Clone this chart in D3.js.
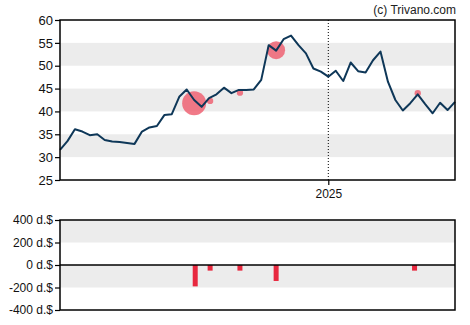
<!DOCTYPE html>
<html><head><meta charset="utf-8">
<script src="https://cdn.jsdelivr.net/npm/d3@7"></script>
<style>body{margin:0;background:#fff}svg{display:block;font-family:"Liberation Sans",Arial,sans-serif}</style>
</head><body><svg id="c" width="470" height="325"></svg>
<script>
// weekly closing prices starting 2024-04-24
const startDate = "2024-04-24";
const prices = [31.6,33.5,36.1,35.6,34.8,35.0,33.75,33.4,33.3,33.1,32.9,35.6,36.5,36.8,39.2,39.4,43.2,44.8,42.5,41.0,42.9,43.75,45.2,44.0,44.7,44.7,44.8,46.9,54.5,53.3,55.8,56.6,54.5,52.7,49.4,48.7,47.6,48.9,46.65,50.7,48.8,48.5,51.2,53.1,46.5,42.5,40.2,41.8,43.75,41.6,39.6,41.9,40.3,42.1];
// insider trade markers (price chart)
const tradeDates = ["2024-08-28","2024-09-12","2024-10-10","2024-11-13","2025-03-26"];
const tradePrices = [41.8,42.3,44.1,53.4,44.0];
const tradeAmounts = [190,50,50,142,50];
// net trade bars (lower chart), d.$
const barDates = ["2024-08-29","2024-09-12","2024-10-10","2024-11-13","2025-03-23"];
const barValues = [-190,-50,-50,-142,-50];
const priceTicks = [25,30,35,40,45,50,55,60];
const volTicks = [-400,-200,0,200,400];
const yearTick = "2025-01-01";

const parse = d3.timeParse("%Y-%m-%d");
const s0 = parse(startDate);
const dates = prices.map((p,i)=>d3.timeDay.offset(s0, 7*i));
const svg = d3.select("#c");
const L=60, R=455, T=20, B=180, T2=220, B2=310;

const x = d3.scaleTime().domain([dates[0], dates[dates.length-1]]).range([L,R]);
const y = d3.scaleLinear().domain([25,60]).range([B,T]);
const y2 = d3.scaleLinear().domain([-400,400]).range([B2,T2]);
const r = d3.scaleLinear().domain([0,190]).range([0,12]);

// bands
[[30,35],[40,45],[50,55]].forEach(([a,b])=>{
  svg.append("rect").attr("x",L).attr("width",R-L).attr("y",y(b)).attr("height",y(a)-y(b)).attr("fill","#ececec");
});
[[200,400],[-200,0]].forEach(([a,b])=>{
  svg.append("rect").attr("x",L).attr("width",R-L).attr("y",y2(b)).attr("height",y2(a)-y2(b)).attr("fill","#ececec");
});

// year line
const xt = x(parse(yearTick));
svg.append("line").attr("x1",xt).attr("x2",xt).attr("y1",T).attr("y2",B)
  .attr("stroke","#000").attr("stroke-width",1).attr("stroke-dasharray","1,2");

// trade circles
svg.append("g").selectAll("circle").data(tradeDates).join("circle")
  .attr("cx",(d)=>x(parse(d))).attr("cy",(d,i)=>y(tradePrices[i])).attr("r",(d,i)=>r(tradeAmounts[i]))
  .attr("fill","#ef6373").attr("fill-opacity",0.85);

// price line
svg.append("path").datum(prices).attr("fill","none").attr("stroke","#0e3758").attr("stroke-width",2)
  .attr("stroke-linejoin","round")
  .attr("d", d3.line().x((d,i)=>x(dates[i])).y(d=>y(d)));

// bars
svg.append("g").selectAll("rect").data(barDates).join("rect")
  .attr("x",d=>x(parse(d))-2.5).attr("width",5)
  .attr("y",(d,i)=>y2(Math.max(0,barValues[i])))
  .attr("height",(d,i)=>Math.abs(y2(barValues[i])-y2(0)))
  .attr("fill","#e8283f");

// frames
svg.append("rect").attr("x",L).attr("y",T).attr("width",R-L).attr("height",B-T).attr("fill","none").attr("stroke","#000").attr("stroke-width",1.5);
svg.append("rect").attr("x",L).attr("y",T2).attr("width",R-L).attr("height",B2-T2).attr("fill","none").attr("stroke","#000").attr("stroke-width",1.5);
svg.append("line").attr("x1",L).attr("x2",R).attr("y1",y2(0)).attr("y2",y2(0)).attr("stroke","#000").attr("stroke-width",1.5);

// axes
const ga = svg.append("g").attr("transform",`translate(${L},0)`)
  .call(d3.axisLeft(y).tickValues(priceTicks).tickSize(5).tickPadding(2).tickFormat(d3.format("d")));
const gb = svg.append("g").attr("transform",`translate(${L},0)`)
  .call(d3.axisLeft(y2).tickValues(volTicks).tickSize(5).tickPadding(2).tickFormat(d=>d+" d.$"));
const gx = svg.append("g").attr("transform",`translate(0,${B})`)
  .call(d3.axisBottom(x).tickValues([parse(yearTick)]).tickSize(5).tickPadding(4).tickFormat(d3.timeFormat("%Y")));
[ga,gb,gx].forEach(g=>{
  g.select(".domain").remove();
  g.selectAll(".tick line").attr("stroke","#000").attr("stroke-width",1.2);
  g.selectAll(".tick text").attr("fill","#111").attr("font-size",12).attr("font-family","Liberation Sans, Arial, sans-serif");
});
ga.selectAll(".tick text").attr("font-size",13);

svg.append("text").attr("x",456).attr("y",14).attr("text-anchor","end").attr("font-size",12).attr("fill","#222").text("(c) Trivano.com");
</script></body></html>
